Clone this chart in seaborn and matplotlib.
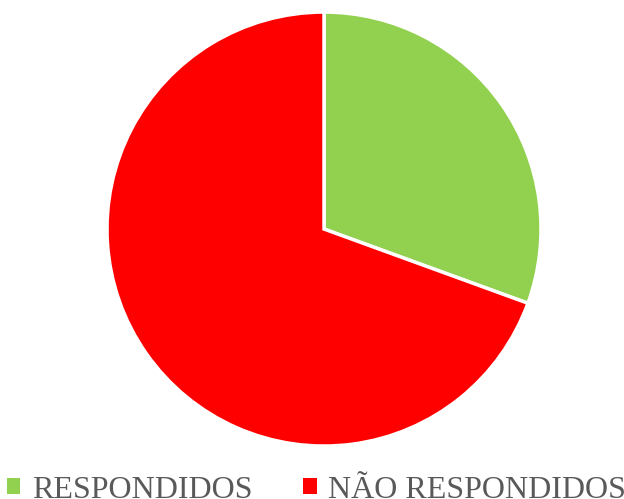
import matplotlib
matplotlib.use("Agg")
import matplotlib.pyplot as plt
from matplotlib.patches import Patch
import seaborn as sns

# data
labels = ["RESPONDIDOS", "NÃO RESPONDIDOS"]
counts = [11, 25]
colors = ["#92D050", "#FF0000"]

sns.set_theme(style="white")
plt.rcParams['font.family'] = ['Liberation Serif', 'DejaVu Serif']

fig = plt.figure(figsize=(6.24, 4.99), dpi=100)
ax = fig.add_axes([0.1715, 0.106, 0.6955, 0.870])

ax.pie(counts, colors=colors, startangle=90, counterclock=False,
       wedgeprops={'edgecolor': 'white', 'linewidth': 2.5})
ax.set_xlim(-1, 1)
ax.set_ylim(-1, 1)
ax.set_aspect('equal')
ax.axis('off')

handles = [Patch(facecolor=c, edgecolor='none') for c in colors]
fig.legend(handles, labels, loc='center', bbox_to_anchor=(0.507, 0.018),
           ncol=2, frameon=False, fontsize=23, handlelength=0.42,
           handleheight=0.42, handletextpad=0.35, columnspacing=1.6,
           labelcolor='#595959', borderpad=0)

fig.savefig("out.png", dpi=100)
